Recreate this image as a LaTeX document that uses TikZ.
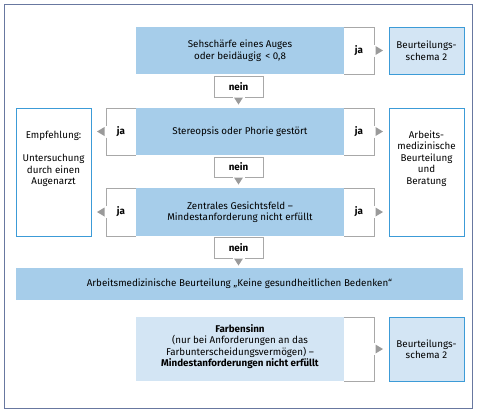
\documentclass[tikz,border=0pt]{standalone}
\usepackage{fontspec}
\setmainfont{Fira Sans}
\definecolor{mainblue}{HTML}{A6CDEA}
\definecolor{lightblue}{HTML}{D3E5F4}
\definecolor{boxborder}{HTML}{3C9BD7}
\definecolor{bracketgray}{HTML}{A8A8A8}
\definecolor{trigray}{HTML}{9A9A9A}
\definecolor{framecol}{HTML}{6878A0}
\newcommand\myfont{\fontsize{9.8}{11.5}\selectfont}
\newcommand\myJaRight[1]{%
  \draw[brk] ([yshift=6pt]#1.east) -- (#1.north east) -- (#1.north west);
  \draw[brk] ([yshift=-6pt]#1.east) -- (#1.south east) -- (#1.south west);
  \fill[trigray] ([xshift=1.5pt,yshift=4.5pt]#1.east) -- ([xshift=9pt]#1.east) -- ([xshift=1.5pt,yshift=-4.5pt]#1.east) -- cycle;}
\newcommand\myJaLeft[1]{%
  \draw[brk] ([yshift=6pt]#1.west) -- (#1.north west) -- (#1.north east);
  \draw[brk] ([yshift=-6pt]#1.west) -- (#1.south west) -- (#1.south east);
  \fill[trigray] ([xshift=-1.5pt,yshift=4.5pt]#1.west) -- ([xshift=-9pt]#1.west) -- ([xshift=-1.5pt,yshift=-4.5pt]#1.west) -- cycle;}
\newcommand\myNein[1]{%
  \draw[brk] ([xshift=-6pt]#1.south) -- (#1.south west) -- (#1.north west) -- (#1.north east) -- (#1.south east) -- ([xshift=6pt]#1.south);
  \fill[trigray] ([xshift=-4.5pt,yshift=-0.5pt]#1.south) -- ([yshift=-7.5pt]#1.south) -- ([xshift=4.5pt,yshift=-0.5pt]#1.south) -- cycle;}
\tikzset{
  base/.style={inner sep=0pt, outer sep=0pt, align=center, font=\myfont},
  mainbox/.style={base, fill=mainblue, minimum width=208pt},
  brkbox/.style={base, font=\myfont\bfseries, minimum width=30pt},
  sidebox/.style={base, draw=boxborder, line width=0.9pt, minimum width=75pt},
  neinbox/.style={base, font=\myfont\bfseries, minimum width=49pt},
  brk/.style={draw=bracketgray, line width=0.8pt},
  txt/.style={base}
}
\begin{document}
\begin{tikzpicture}[x=1pt, y=-1pt]
\useasboundingbox (0,0) rectangle (477,413);
\fill[white] (0,0) rectangle (477,413);
\draw[framecol, line width=1.5pt] (4.5,4.5) rectangle (472.5,408.5);

% row 1
\node[mainbox, minimum height=47pt] (b1) at (240,50.5) {Sehschärfe eines Auges\\oder beidäugig \,< 0,8};
\node[brkbox, minimum height=47pt] (j1r) at (359,50.5) {ja};
\node[sidebox, fill=lightblue, minimum height=47pt] (s1) at (426.5,50.5) {Beurteilungs-\\schema 2};
\myJaRight{j1r}
\node[neinbox, minimum height=21pt] (n1) at (238.5,86.5) {nein};
\myNein{n1}

% row 2
\node[mainbox, minimum height=47pt] (b2) at (240,131.5) {Stereopsis oder Phorie gestört};
\node[brkbox, minimum height=47pt] (j2r) at (359,131.5) {ja};
\node[brkbox, minimum height=47pt] (j2l) at (121,131.5) {ja};
\myJaRight{j2r}
\myJaLeft{j2l}
\node[neinbox, minimum height=20pt] (n2) at (238.5,167) {nein};
\myNein{n2}

% row 3
\node[mainbox, minimum height=48pt] (b3) at (240,212) {Zentrales Gesichtsfeld –\\Mindestanforderung nicht erfüllt};
\node[brkbox, minimum height=48pt] (j3r) at (359,212) {ja};
\node[brkbox, minimum height=48pt] (j3l) at (121,212) {ja};
\myJaRight{j3r}
\myJaLeft{j3l}
\node[neinbox, minimum height=21pt] (n3) at (238.5,247.5) {nein};
\myNein{n3}

% side boxes
\node[sidebox, minimum height=128pt] (L) at (53.5,172) {};
\node[txt] (Lt) at (53.5,159) {Empfehlung:\\[11.5pt]Untersuchung\\durch einen\\Augenarzt};
\node[sidebox, minimum height=128pt] (R) at (426.5,172) {};
\node[txt] (Rt) at (426.5,158.5) {Arbeits-\\medizinische\\Beurteilung\\und\\Beratung};

% bar
\node[base, fill=mainblue, minimum width=447pt, minimum height=32pt] (bar) at (239.5,284) {Arbeitsmedizinische Beurteilung „Keine gesundheitlichen Bedenken“};

% row 4
\node[mainbox, fill=lightblue, minimum height=64pt] (b4) at (240,349) {};
\node[txt] (b4t) at (240,346.5) {\textbf{Farbensinn}\\(nur bei Anforderungen an das\\Farbunterscheidungsvermögen) –\\\textbf{Mindestanforderungen nicht erfüllt}};
\node[brkbox, minimum height=64pt] (j4r) at (359,349) {};
\myJaRight{j4r}
\node[sidebox, fill=lightblue, minimum height=64pt] (s4) at (426.5,349) {Beurteilungs-\\schema 2};
\end{tikzpicture}
\end{document}
